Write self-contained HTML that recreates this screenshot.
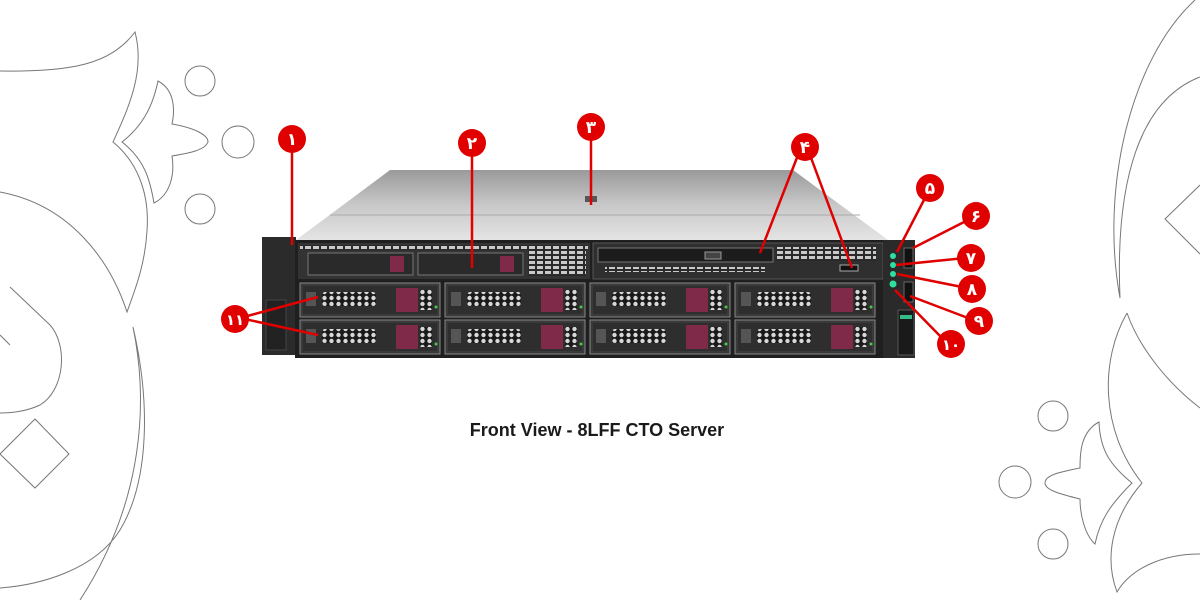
<!DOCTYPE html>
<html><head><meta charset="utf-8"><style>
html,body{margin:0;padding:0;background:#fff;width:1200px;height:600px;overflow:hidden}
svg{display:block}
</style></head><body>
<svg width="1200" height="600" viewBox="0 0 1200 600" xmlns="http://www.w3.org/2000/svg">
<defs>
<linearGradient id="top" x1="0" y1="0" x2="0" y2="1"><stop offset="0" stop-color="#9a9a9a"/><stop offset="0.5" stop-color="#c8c8c8"/><stop offset="1" stop-color="#e4e4e4"/></linearGradient>
<pattern id="hex" width="7" height="6" patternUnits="userSpaceOnUse"><rect width="7" height="6" fill="#1a1a1a"/><circle cx="3.5" cy="3" r="2.2" fill="#d8d8d8"/></pattern>
<pattern id="vent" width="8" height="5" patternUnits="userSpaceOnUse"><rect width="8" height="5" fill="#2a2a2a"/><rect x="1" y="1" width="6" height="3" fill="#c9c9c9"/></pattern>
<g id="bay">
<rect x="0" y="0" width="140" height="34" fill="#3a3a3a" stroke="#888" stroke-width="1"/>
<rect x="3" y="3" width="134" height="28" fill="#2e2e2e"/>
<rect x="6" y="9" width="10" height="14" fill="#555"/>
<rect x="22" y="9" width="54" height="14" rx="3" fill="url(#hex)"/>
<rect x="96" y="5" width="22" height="24" fill="#7e2a48"/>
<rect x="120" y="7" width="12" height="20" fill="url(#hex)"/>
<circle cx="136" cy="24" r="1.5" fill="#4c4"/>
</g>
</defs>
<g fill="none" stroke="#777" stroke-width="1">
<!-- left -->
<path d="M0 71 C70 72 110 65 135 32 C145 70 130 105 113 142 C135 160 150 190 147 231 C145 265 135 290 127 312 C110 260 70 205 0 192"/>
<path d="M158 81 C175 90 175 110 172 124 C195 128 208 135 208 142 C205 150 190 153 172 156 C175 175 170 195 154 203 C150 180 145 160 122 142 C140 128 152 110 158 81Z"/>
<circle cx="200" cy="81" r="15"/><circle cx="238" cy="142" r="16"/><circle cx="200" cy="209" r="15"/>
<path d="M10 287 L50 325 C68 345 65 390 40 405 C25 412 10 413 0 413"/>
<path d="M0 335 L10 345"/>
<path d="M0 454 L35 419 L69 454 L35 488 Z"/>
<path d="M133 327 C150 400 150 480 120 530 C95 570 40 585 0 588 M133 327 C148 400 145 500 80 600"/>
<!-- right -->
<path d="M1195 0 C1130 60 1100 190 1120 298 C1115 180 1140 100 1200 77"/>
<path d="M1200 185 L1165 219 L1200 254"/>
<path d="M1127 313 C1140 350 1170 385 1200 408"/>
<path d="M1127 313 C1100 360 1100 430 1142 483 C1110 520 1105 560 1117 592 C1130 570 1160 554 1200 554"/>
<path d="M1099 422 C1080 432 1080 455 1080 468 C1060 472 1045 475 1045 483 C1045 490 1060 494 1080 499 C1080 515 1085 535 1095 544 C1100 520 1110 505 1132 483 C1110 465 1100 450 1099 422Z"/>
<circle cx="1053" cy="416" r="15"/><circle cx="1015" cy="482" r="16"/><circle cx="1053" cy="544" r="15"/>
</g>
<!-- server -->
<polygon points="296,240 390,170 793,170 888,240" fill="url(#top)"/>
<line x1="330" y1="215" x2="860" y2="215" stroke="#aaa"/>
<rect x="585" y="196" width="12" height="6" fill="#555"/>
<rect x="262" y="237" width="34" height="118" fill="#2b2b2b"/>
<rect x="266" y="300" width="20" height="50" fill="#222" stroke="#444"/>
<rect x="295" y="240" width="590" height="118" fill="#1f1f1f"/>
<rect x="298" y="243" width="292" height="36" fill="#333"/>
<rect x="300" y="245" width="288" height="5" fill="url(#vent)"/>
<rect x="308" y="253" width="105" height="22" fill="#2a2a2a" stroke="#777"/>
<rect x="418" y="253" width="105" height="22" fill="#2a2a2a" stroke="#777"/>
<rect x="390" y="256" width="14" height="16" fill="#7e2a48"/><rect x="500" y="256" width="14" height="16" fill="#7e2a48"/>
<rect x="528" y="248" width="58" height="28" fill="url(#vent)"/>
<rect x="593" y="243" width="290" height="36" fill="#2f2f2f" stroke="#555"/>
<rect x="598" y="248" width="175" height="14" fill="#1c1c1c" stroke="#777"/>
<rect x="705" y="252" width="16" height="7" fill="#444" stroke="#999"/>
<rect x="776" y="247" width="100" height="14" fill="url(#vent)"/>
<rect x="605" y="267" width="160" height="5" fill="url(#vent)"/>
<rect x="840" y="265" width="18" height="6" fill="#111" stroke="#aaa"/>
<use href="#bay" x="300" y="283"/><use href="#bay" x="445" y="283"/><use href="#bay" x="590" y="283"/><use href="#bay" x="735" y="283"/>
<use href="#bay" x="300" y="320"/><use href="#bay" x="445" y="320"/><use href="#bay" x="590" y="320"/><use href="#bay" x="735" y="320"/>
<rect x="883" y="240" width="32" height="118" fill="#2a2a2a"/>
<rect x="904" y="248" width="9" height="20" fill="#111" stroke="#666"/>
<rect x="904" y="282" width="9" height="20" fill="#111" stroke="#666"/>
<rect x="898" y="310" width="16" height="45" fill="#1a1a1a" stroke="#555"/>
<rect x="900" y="315" width="12" height="4" fill="#3b8"/>
<g fill="#2ee0a0"><circle cx="893" cy="256" r="3"/><circle cx="893" cy="265" r="3"/><circle cx="893" cy="274" r="3"/><circle cx="893" cy="284" r="3.5"/></g>
<!-- callouts -->
<g stroke="#e00000" stroke-width="2.5" fill="none">
<line x1="292" y1="150" x2="292" y2="245"/>
<line x1="472" y1="150" x2="472" y2="268"/>
<line x1="591" y1="135" x2="591" y2="205"/>
<line x1="798" y1="155" x2="760" y2="253"/><line x1="810" y1="155" x2="852" y2="268"/>
<line x1="925" y1="198" x2="897" y2="252"/>
<line x1="968" y1="220" x2="913" y2="248"/>
<line x1="965" y1="258" x2="896" y2="265"/>
<line x1="962" y1="287" x2="897" y2="274"/>
<line x1="968" y1="318" x2="910" y2="296"/>
<line x1="942" y1="338" x2="895" y2="290"/>
<line x1="240" y1="318" x2="318" y2="297"/><line x1="240" y1="318" x2="318" y2="335"/>
</g>
<g fill="#e00000">
<circle cx="292" cy="139" r="14"/><circle cx="472" cy="143" r="14"/><circle cx="591" cy="127" r="14"/><circle cx="805" cy="147" r="14"/>
<circle cx="930" cy="188" r="14"/><circle cx="976" cy="216" r="14"/><circle cx="971" cy="258" r="14"/><circle cx="972" cy="289" r="14"/><circle cx="979" cy="321" r="14"/><circle cx="951" cy="344" r="14"/>
<circle cx="235" cy="319" r="14"/>
</g>
<g fill="#fff" font-family="'DejaVu Sans',sans-serif" font-weight="bold" font-size="17" text-anchor="middle">
<text x="292" y="145">۱</text><text x="472" y="149">۲</text><text x="591" y="133">۳</text><text x="805" y="153">۴</text>
<text x="930" y="194">۵</text><text x="976" y="222">۶</text><text x="971" y="264">۷</text><text x="972" y="295">۸</text><text x="979" y="327">۹</text><text x="951" y="350" font-size="15">۱۰</text>
<text x="235" y="325" font-size="15">۱۱</text>
</g>
<text x="597" y="436" text-anchor="middle" font-family="'Liberation Sans',Arial,sans-serif" font-weight="bold" font-size="18" fill="#1a1a1a">Front View - 8LFF CTO Server</text>
</svg>
</body></html>
